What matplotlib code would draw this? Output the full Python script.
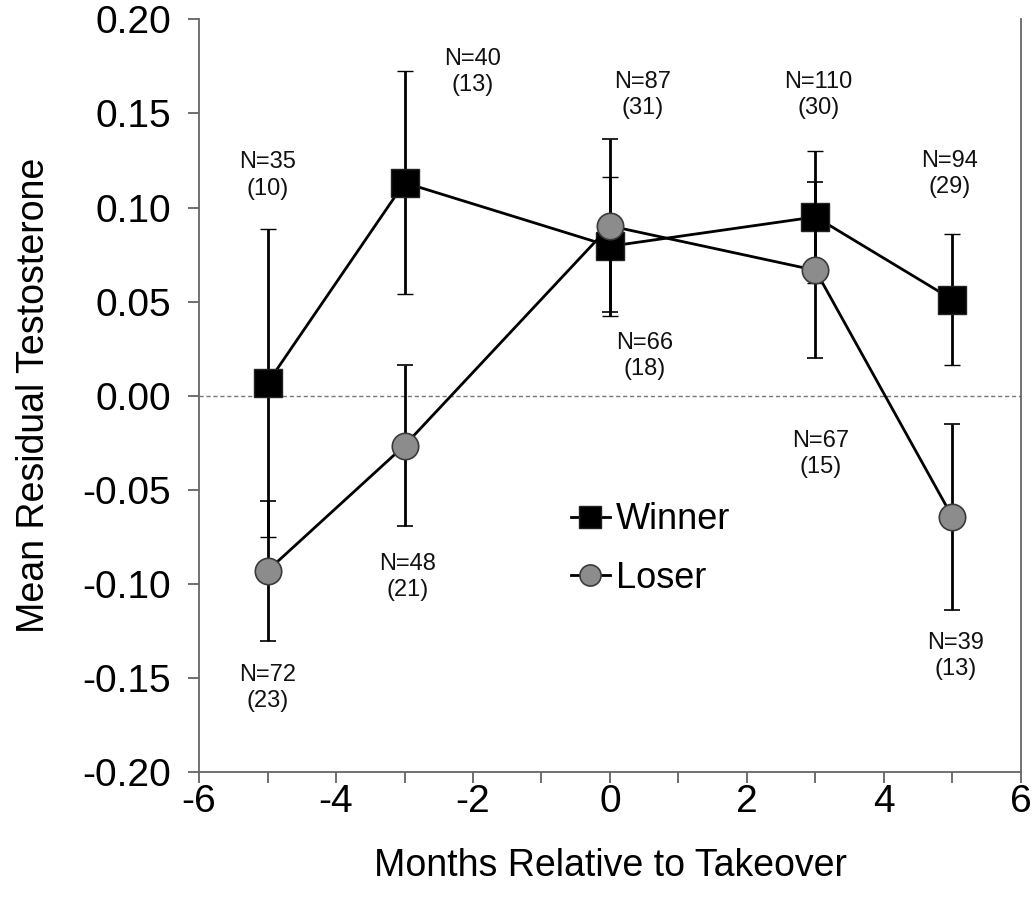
import matplotlib
matplotlib.use("Agg")
import matplotlib.pyplot as plt
from matplotlib.lines import Line2D

plt.rcParams["font.family"] = ["Liberation Sans", "DejaVu Sans"]
plt.rcParams["axes.unicode_minus"] = False

months = [-5, -3, 0, 3, 5]

winner_mean = [0.0066, 0.1132, 0.0794, 0.0950, 0.0510]
winner_err = [0.0820, 0.0594, 0.0370, 0.0350, 0.0349]
loser_mean = [-0.0932, -0.0266, 0.0902, 0.0666, -0.0647]
loser_err = [0.0372, 0.0428, 0.0460, 0.0468, 0.0494]

# sample sizes: (x, y, label) for each annotation
n_x = [-5, -2.0, 0.47, 3.04, 4.96, 0.51, 3.07, -2.95, -5, 5.04]
n_y = [0.117, 0.172, 0.160, 0.160, 0.118, 0.021, -0.031, -0.0965, -0.1556, -0.1386]
n_labels = ["N=35\n(10)", "N=40\n(13)", "N=87\n(31)", "N=110\n(30)", "N=94\n(29)",
            "N=66\n(18)", "N=67\n(15)", "N=48\n(21)", "N=72\n(23)", "N=39\n(13)"]

fig = plt.figure(figsize=(10.36, 9.11), dpi=100)
ax = fig.add_axes([0.1921, 0.1531, 0.7934, 0.8255])

ax.axhline(0, color="#777777", lw=1.0, ls=(0, (3, 2)), zorder=1)

winner_style = dict(color="black", lw=2, marker="s", ms=20, mfc="black",
                    mec="#222222", mew=1)
loser_style = dict(color="black", lw=2, marker="o", ms=19, mfc="#8c8c8c",
                   mec="#3a3a3a", mew=1.2)

ax.errorbar(months, winner_mean, yerr=winner_err, ecolor="black",
            elinewidth=2, capsize=6, capthick=2, zorder=3, **winner_style)
ax.errorbar(months, loser_mean, yerr=loser_err, ecolor="black",
            elinewidth=2, capsize=6, capthick=2, zorder=4, **loser_style)

for x, y, s in zip(n_x, n_y, n_labels):
    ax.text(x, y, s, ha="center", va="center", fontsize=17,
            linespacing=1.25, color="#111111")

ax.set_xlim(-6, 6)
ax.set_ylim(-0.20, 0.20)
ax.set_xticks(range(-6, 7, 2))
ax.set_xticks(range(-5, 6, 2), minor=True)
ax.set_yticks([-0.20, -0.15, -0.10, -0.05, 0.00, 0.05, 0.10, 0.15, 0.20])
ax.set_yticklabels([f"{v:.2f}" for v in ax.get_yticks()])

ax.tick_params(axis="both", which="both", direction="out", length=8,
               width=1.2, color="#555555", labelsize=28)
ax.tick_params(axis="y", pad=12)
ax.tick_params(axis="x", pad=1)

ax.spines["top"].set_visible(False)
for side in ("left", "bottom", "right"):
    ax.spines[side].set_color("#666666")
    ax.spines[side].set_linewidth(1.3)

ax.set_xlabel("Months Relative to Takeover", fontsize=27, labelpad=20)
ax.set_ylabel("Mean Residual Testosterone", fontsize=27, labelpad=22)

handles = [Line2D([], [], **winner_style), Line2D([], [], **loser_style)]
ax.legend(handles, ["Winner", "Loser"], loc="center left",
          bbox_to_anchor=(0.452, 0.296), frameon=False, fontsize=26,
          markerscale=0.8, handlelength=1.1, handletextpad=0.15,
          labelspacing=0.65, borderpad=0, borderaxespad=0)

fig.savefig("out.png", dpi=100)
